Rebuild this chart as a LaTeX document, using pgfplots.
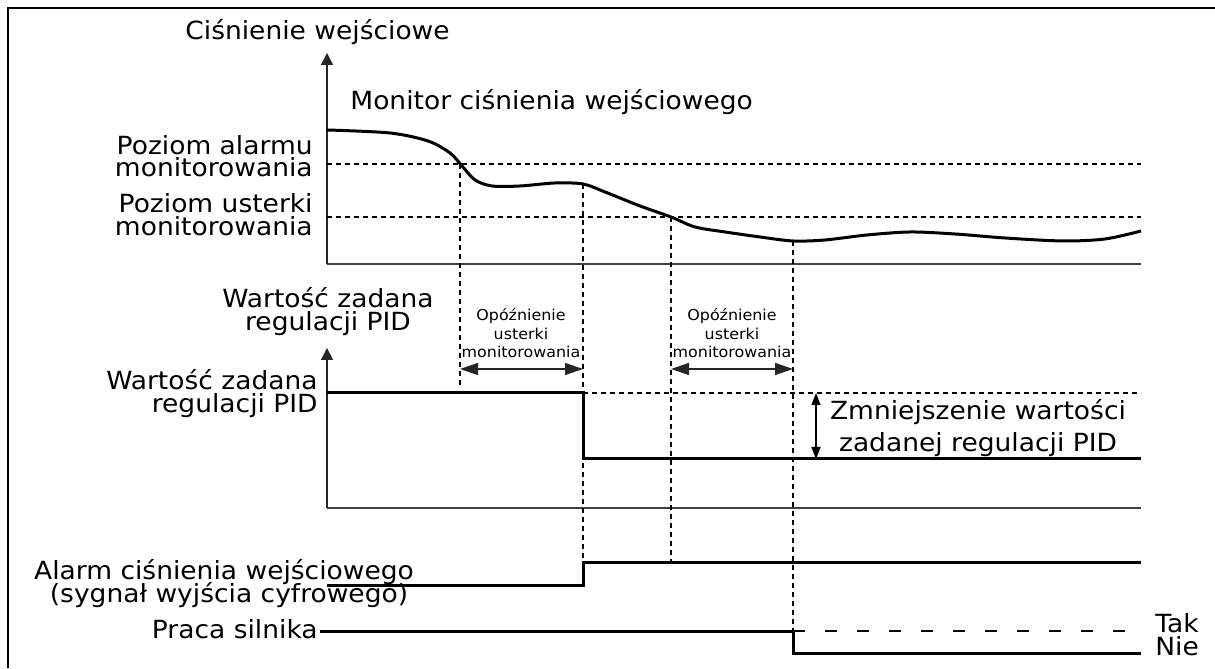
\documentclass[border=0pt]{standalone}
\usepackage{fontspec}
\setmainfont{DejaVu Sans}[FakeStretch=1.06]
\usepackage{pgfplots}
\pgfplotsset{compat=1.18}
\usetikzlibrary{arrows.meta}

\pgfplotsset{
  panel/.style={scale only axis, clip=false,
    axis x line=bottom, axis y line=left,
    xtick=\empty, ytick=\empty,
    x axis line style={-, black!75, line width=0.75bp},
    y axis line style={-{Triangle[length=6bp,width=6bp]}, black!85, line width=0.75bp}},
  sig/.style={black, line width=1.5bp, no markers},
  lvl/.style={black, line width=0.6bp, dash pattern=on 2.5bp off 2bp, no markers},
}
\tikzset{
  vdash/.style={black, line width=0.6bp, dash pattern=on 2.5bp off 2bp},
  big/.style={font=\fontsize{12.5bp}{13bp}\selectfont, inner sep=0pt},
  small/.style={font=\fontsize{7.5bp}{9bp}\selectfont, inner sep=0pt},
  darr/.style={black!85, line width=0.7bp, {Triangle[length=9bp,width=6bp]}-{Triangle[length=9bp,width=6bp]}},
}

\begin{document}
\begin{tikzpicture}[x=0.5bp, y=0.5bp]

% input pressure
\begin{axis}[panel, at={(163.5bp,202bp)}, anchor=south west,
  width=407bp, height=105.5bp,
  xmin=327, xmax=1141, ymin=404, ymax=615]
\addplot[lvl] coordinates {(327,504) (1141,504)};
\addplot[lvl] coordinates {(327,451) (1141,451)};
\addplot[sig, smooth] coordinates {
  (327,538) (390,535) (428,527) (450,515) (462,502) (475,488)
  (492,482) (520,482) (555,485) (583,484) (605,476) (640,462)
  (671,451) (695,441) (725,436) (760,431) (793,427) (825,428)
  (867,433) (910,436) (955,434) (1005,430) (1063,427) (1105,429) (1141,437)
};
\end{axis}

% PID setpoint
\begin{axis}[panel, at={(163.5bp,80bp)}, anchor=south west,
  width=407bp, height=80bp,
  xmin=327, xmax=1141, ymin=160, ymax=320]
\addplot[lvl] coordinates {(583,275) (1141,275)};
\addplot[sig] coordinates {(327,275) (583,275) (583,209) (1141,209)};
\end{axis}

% digital signals
\begin{axis}[scale only axis, clip=false, axis lines=none,
  at={(150bp,0bp)}, anchor=south west,
  width=420.5bp, height=64bp,
  xmin=300, xmax=1141, ymin=0, ymax=128]
\addplot[sig] coordinates {(327,82) (583,82) (583,105) (1141,105)};
\addplot[sig] coordinates {(320,37) (793,37) (793,15) (1141,15)};
\addplot[black, line width=0.6bp, dash pattern=on 6bp off 10bp, no markers]
  coordinates {(793,37) (1125,37)};
\end{axis}

% frame
\draw[black, line width=0.75bp] (8,0) -- (8,660) -- (1215,660);

% delay markers
\draw[vdash] (460,504) -- (460,281);
\draw[vdash] (583,484) -- (583,105);
\draw[vdash] (671,451) -- (671,105);
\draw[vdash] (793,427) -- (793,37);
\draw[darr] (460,299) -- (583,299);
\draw[darr] (671,299) -- (793,299);
\draw[black, line width=0.7bp, {Triangle[length=6bp,width=4.5bp]}-{Triangle[length=6bp,width=4.5bp]}] (816,275) -- (816,209);

% texts
\node[big, anchor=base west] at (185,628) {Ciśnienie wejściowe};
\node[big, anchor=base west] at (350,558) {Monitor ciśnienia wejściowego};
\node[big, anchor=base east] at (313,513) {Poziom alarmu};
\node[big, anchor=base east] at (313,491) {monitorowania};
\node[big, anchor=base east] at (313,455) {Poziom usterki};
\node[big, anchor=base east] at (313,432) {monitorowania};

\node[big, anchor=base] at (328,360) {Wartość zadana};
\node[big, anchor=base] at (328,337) {regulacji PID};
\node[big, anchor=base east] at (318,278) {Wartość zadana};
\node[big, anchor=base east] at (318,255) {regulacji PID};

\node[small, anchor=base] at (521,347) {Opóźnienie};
\node[small, anchor=base] at (521,328) {usterki};
\node[small, anchor=base] at (521,310) {monitorowania};
\node[small, anchor=base] at (732,347) {Opóźnienie};
\node[small, anchor=base] at (732,328) {usterki};
\node[small, anchor=base] at (732,310) {monitorowania};

\node[big, anchor=base] at (978,248) {Zmniejszenie wartości};
\node[big, anchor=base] at (978,216) {zadanej regulacji PID};

\node[big, anchor=base] at (224,89) {Alarm ciśnienia wejściowego};
\node[big, anchor=base] at (229,65) {(sygnał wyjścia cyfrowego)};
\node[big, anchor=base east] at (318,30) {Praca silnika};
\node[big, anchor=base west] at (1155,36) {Tak};
\node[big, anchor=base west] at (1155,13) {Nie};

\pgfresetboundingbox
\useasboundingbox (0,0) rectangle (1215,668);
\end{tikzpicture}
\end{document}
